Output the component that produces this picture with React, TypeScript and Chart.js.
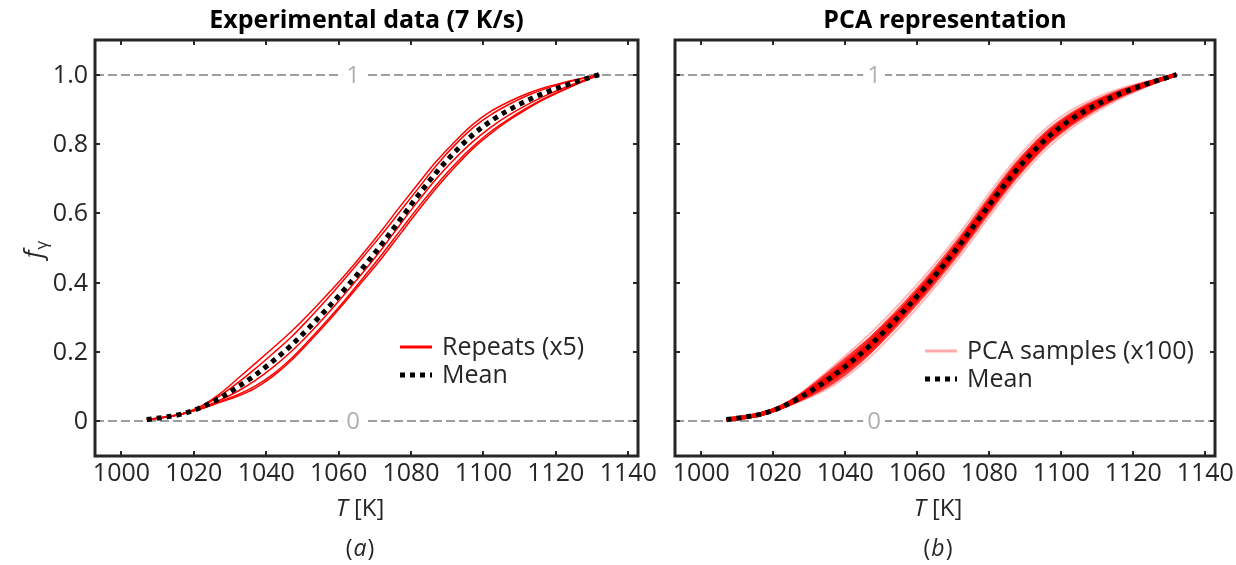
import React, { useEffect, useRef } from "react";
import { Chart, registerables } from "chart.js";
Chart.register(...registerables);

// ---------- data ----------
const temps = [1007, 1012, 1017, 1022, 1027, 1032, 1037, 1042, 1047, 1052, 1057, 1062, 1067, 1072, 1077, 1082, 1087, 1092, 1097, 1102, 1107, 1112, 1117, 1122, 1127, 1132];

const meanCurve = [0.005, 0.012, 0.022, 0.040, 0.066, 0.098, 0.134, 0.175, 0.220, 0.272, 0.327, 0.385, 0.447, 0.512, 0.582, 0.652, 0.718, 0.776, 0.826, 0.866, 0.898, 0.925, 0.948, 0.967, 0.984, 1.0];

const repeat1 = [0.005, 0.012, 0.023, 0.044, 0.078, 0.122, 0.167, 0.213, 0.260, 0.312, 0.367, 0.425, 0.487, 0.552, 0.620, 0.686, 0.750, 0.806, 0.856, 0.894, 0.922, 0.945, 0.963, 0.977, 0.989, 1.0];
const repeat2 = [0.005, 0.012, 0.022, 0.042, 0.072, 0.110, 0.152, 0.197, 0.244, 0.298, 0.355, 0.415, 0.477, 0.540, 0.606, 0.672, 0.738, 0.796, 0.846, 0.884, 0.914, 0.939, 0.959, 0.975, 0.988, 1.0];
const repeat3 = [0.005, 0.012, 0.022, 0.038, 0.060, 0.086, 0.118, 0.157, 0.202, 0.254, 0.311, 0.371, 0.433, 0.498, 0.568, 0.636, 0.700, 0.756, 0.806, 0.848, 0.883, 0.913, 0.939, 0.961, 0.981, 1.0];
const repeat4 = [0.005, 0.012, 0.022, 0.037, 0.056, 0.076, 0.102, 0.137, 0.182, 0.236, 0.293, 0.353, 0.417, 0.482, 0.550, 0.618, 0.682, 0.740, 0.792, 0.836, 0.872, 0.904, 0.932, 0.956, 0.979, 1.0];
const repeat5 = [0.005, 0.012, 0.022, 0.036, 0.054, 0.072, 0.096, 0.131, 0.176, 0.230, 0.287, 0.347, 0.409, 0.472, 0.540, 0.608, 0.673, 0.732, 0.786, 0.830, 0.868, 0.901, 0.930, 0.955, 0.978, 1.0];

const pcaSample1 = [0.005, 0.012, 0.023, 0.043, 0.076, 0.118, 0.162, 0.207, 0.254, 0.306, 0.361, 0.419, 0.481, 0.546, 0.616, 0.686, 0.751, 0.808, 0.856, 0.893, 0.921, 0.944, 0.962, 0.976, 0.988, 1.0];
const pcaSample2 = [0.005, 0.012, 0.021, 0.037, 0.056, 0.078, 0.106, 0.143, 0.186, 0.238, 0.293, 0.351, 0.413, 0.478, 0.548, 0.618, 0.685, 0.744, 0.796, 0.839, 0.875, 0.906, 0.934, 0.958, 0.980, 1.0];
const pcaSample3 = [0.005, 0.012, 0.023, 0.042, 0.072, 0.110, 0.151, 0.194, 0.240, 0.292, 0.347, 0.405, 0.467, 0.532, 0.602, 0.672, 0.738, 0.795, 0.844, 0.882, 0.912, 0.936, 0.956, 0.972, 0.986, 1.0];
const pcaSample4 = [0.005, 0.012, 0.021, 0.038, 0.060, 0.086, 0.117, 0.156, 0.200, 0.252, 0.307, 0.365, 0.427, 0.492, 0.562, 0.632, 0.698, 0.757, 0.808, 0.850, 0.884, 0.914, 0.940, 0.962, 0.982, 1.0];
const pcaSample5 = [0.005, 0.012, 0.022, 0.041, 0.069, 0.104, 0.142, 0.185, 0.230, 0.282, 0.337, 0.395, 0.457, 0.522, 0.592, 0.662, 0.728, 0.786, 0.835, 0.874, 0.905, 0.931, 0.952, 0.970, 0.985, 1.0];
const pcaSample6 = [0.005, 0.012, 0.022, 0.039, 0.063, 0.092, 0.126, 0.165, 0.210, 0.262, 0.317, 0.375, 0.437, 0.502, 0.572, 0.642, 0.708, 0.766, 0.817, 0.858, 0.891, 0.919, 0.944, 0.964, 0.983, 1.0];
const pcaSample7 = [0.005, 0.012, 0.022, 0.040, 0.067, 0.100, 0.137, 0.178, 0.223, 0.275, 0.330, 0.388, 0.450, 0.515, 0.585, 0.655, 0.721, 0.779, 0.829, 0.869, 0.900, 0.927, 0.949, 0.968, 0.984, 1.0];
const pcaSample8 = [0.005, 0.012, 0.022, 0.040, 0.065, 0.096, 0.131, 0.172, 0.217, 0.269, 0.324, 0.382, 0.444, 0.509, 0.579, 0.649, 0.715, 0.773, 0.823, 0.863, 0.896, 0.923, 0.947, 0.966, 0.984, 1.0];
const pcaSample9 = [0.005, 0.012, 0.023, 0.043, 0.074, 0.114, 0.156, 0.199, 0.242, 0.290, 0.339, 0.391, 0.447, 0.506, 0.570, 0.636, 0.700, 0.758, 0.810, 0.852, 0.887, 0.917, 0.942, 0.963, 0.982, 1.0];
const pcaSample10 = [0.005, 0.012, 0.021, 0.037, 0.058, 0.082, 0.112, 0.151, 0.198, 0.254, 0.315, 0.379, 0.447, 0.518, 0.594, 0.668, 0.736, 0.794, 0.842, 0.880, 0.909, 0.933, 0.954, 0.971, 0.986, 1.0];

const xTicks = [1000, 1020, 1040, 1060, 1080, 1100, 1120, 1140];
const xTickLabels = ["1000", "1020", "1040", "1060", "1080", "1100", "1120", "1140"];
const yTicks = [0, 0.2, 0.4, 0.6, 0.8, 1.0];
const yTickLabels = ["0", "0.2", "0.4", "0.6", "0.8", "1.0"];
const refLevels = [0, 1];
const refLabels = ["0", "1"];

const repeats = [repeat1, repeat2, repeat3, repeat4, repeat5];
const pcaSamples = [pcaSample1, pcaSample2, pcaSample3, pcaSample4, pcaSample5, pcaSample6, pcaSample7, pcaSample8, pcaSample9, pcaSample10];
// opacity / width of each PCA sample line (outer samples fainter)
const pcaAlpha = [0.28, 0.28, 0.7, 0.7, 0.9, 0.9, 0.95, 0.95, 0.55, 0.55];
const pcaWidth = [2, 2, 3, 3, 4, 4, 4, 4, 2, 2];

// ---------- styling ----------
const FONT = "'Open Sans', 'Noto Sans', sans-serif";
const INK = "#262626";
const GREY = "#9e9e9e";
const TICK_FS = 25;

const toPts = (ys: number[]) => temps.map((t, i) => ({ x: t, y: ys[i] }));

type PanelCfg = {
  title: string;
  sub: string;
  refLabelT: number;
  showYLabels: boolean;
  legend: { kind: "solid" | "dotted"; color: string; text: string; x: number; y: number }[];
  xLabelCx: number;
};

function makeDecor(cfg: PanelCfg) {
  return {
    id: "decor",
    beforeDatasetsDraw(chart: any) {
      const { ctx, chartArea: a, scales } = chart;
      const sx = scales.x, sy = scales.y;
      ctx.save();
      ctx.strokeStyle = GREY;
      ctx.lineWidth = 2;
      ctx.setLineDash([9, 4]);
      refLevels.forEach((v) => {
        const py = Math.round(sy.getPixelForValue(v));
        ctx.beginPath();
        ctx.moveTo(a.left, py);
        ctx.lineTo(a.right, py);
        ctx.stroke();
      });
      ctx.setLineDash([]);
      ctx.font = `24px ${FONT}`;
      ctx.textAlign = "center";
      ctx.textBaseline = "middle";
      refLevels.forEach((v, i) => {
        const px = sx.getPixelForValue(cfg.refLabelT);
        const py = sy.getPixelForValue(v);
        const w = ctx.measureText(refLabels[i]).width + 8;
        ctx.fillStyle = "#ffffff";
        ctx.fillRect(px - w / 2, py - 13, w, 26);
        ctx.fillStyle = "#b0b0b0";
        ctx.fillText(refLabels[i], px, py + 1);
      });
      ctx.restore();
    },
    afterDraw(chart: any) {
      const { ctx, chartArea: a, scales } = chart;
      const sx = scales.x, sy = scales.y;
      ctx.save();
      // ticks inward
      ctx.strokeStyle = INK;
      ctx.lineWidth = 2;
      const tl = 5;
      xTicks.forEach((v) => {
        const px = Math.round(sx.getPixelForValue(v));
        ctx.beginPath();
        ctx.moveTo(px, a.bottom);
        ctx.lineTo(px, a.bottom - tl);
        ctx.moveTo(px, a.top);
        ctx.lineTo(px, a.top + tl);
        ctx.stroke();
      });
      yTicks.forEach((v) => {
        const py = Math.round(sy.getPixelForValue(v));
        ctx.beginPath();
        ctx.moveTo(a.left, py);
        ctx.lineTo(a.left + tl, py);
        ctx.moveTo(a.right, py);
        ctx.lineTo(a.right - tl, py);
        ctx.stroke();
      });
      // frame
      ctx.lineWidth = 3;
      ctx.strokeRect(a.left, a.top, a.right - a.left, a.bottom - a.top);

      // tick labels
      ctx.fillStyle = INK;
      ctx.font = `${TICK_FS}px ${FONT}`;
      ctx.textAlign = "center";
      ctx.textBaseline = "middle";
      xTicks.forEach((v, i) => {
        ctx.fillText(xTickLabels[i], sx.getPixelForValue(v), a.bottom + 18);
      });
      if (cfg.showYLabels) {
        ctx.textAlign = "right";
        yTicks.forEach((v, i) => {
          ctx.fillText(yTickLabels[i], a.left - 7, sy.getPixelForValue(v) + 1);
        });
      }

      // title
      const cx = (a.left + a.right) / 2;
      ctx.fillStyle = "#000";
      ctx.font = `bold 25px ${FONT}`;
      ctx.textAlign = "center";
      ctx.textBaseline = "middle";
      ctx.fillText(cfg.title, cx, 21);

      // x label "T [K]"
      ctx.fillStyle = INK;
      ctx.textAlign = "left";
      const itF = `italic 24px ${FONT}`;
      const rgF = `24px ${FONT}`;
      ctx.font = itF;
      const wT = ctx.measureText("T").width;
      ctx.font = rgF;
      const wK = ctx.measureText(" [K]").width;
      let x0 = cfg.xLabelCx - (wT + wK) / 2;
      ctx.font = itF;
      ctx.fillText("T", x0, 509);
      ctx.font = rgF;
      ctx.fillText(" [K]", x0 + wT, 509);

      // sub label (a)/(b)
      const itS = `italic 23px ${FONT}`;
      const rgS = `23px ${FONT}`;
      ctx.font = rgS;
      const w1 = ctx.measureText("(").width;
      ctx.font = itS;
      const w2 = ctx.measureText(cfg.sub).width + 2;
      ctx.font = rgS;
      const w3 = ctx.measureText(")").width;
      x0 = cfg.xLabelCx - (w1 + w2 + w3) / 2;
      ctx.fillText("(", x0, 549);
      ctx.font = itS;
      ctx.fillText(cfg.sub, x0 + w1 + 1, 549);
      ctx.font = rgS;
      ctx.fillText(")", x0 + w1 + w2, 549);

      // y label
      if (cfg.showYLabels) {
        ctx.save();
        ctx.translate(42, 250);
        ctx.rotate(-Math.PI / 2);
        ctx.font = `italic 25px ${FONT}`;
        const wf = ctx.measureText("f").width;
        ctx.font = `17px ${FONT}`;
        const wg = ctx.measureText("γ").width;
        const sx0 = -(wf + wg) / 2;
        ctx.font = `italic 25px ${FONT}`;
        ctx.textBaseline = "alphabetic";
        ctx.fillText("f", sx0, 0);
        ctx.font = `17px ${FONT}`;
        ctx.fillText("γ", sx0 + wf + 1, 5);
        ctx.restore();
      }

      // legend
      ctx.textAlign = "left";
      ctx.textBaseline = "middle";
      cfg.legend.forEach((e) => {
        ctx.beginPath();
        ctx.strokeStyle = e.color;
        if (e.kind === "solid") {
          ctx.lineWidth = 3;
          ctx.setLineDash([]);
        } else {
          ctx.lineWidth = 5;
          ctx.setLineDash([5, 5]);
        }
        ctx.moveTo(e.x, e.y);
        ctx.lineTo(e.x + 32, e.y);
        ctx.stroke();
        ctx.setLineDash([]);
        ctx.fillStyle = INK;
        ctx.font = `25px ${FONT}`;
        ctx.fillText(e.text, e.x + 42, e.y + 1);
      });
      ctx.restore();
    },
  };
}

function buildOptions(padding: any) {
  return {
    responsive: false,
    maintainAspectRatio: false,
    animation: false as const,
    layout: { padding },
    plugins: { legend: { display: false }, tooltip: { enabled: false }, title: { display: false } },
    elements: { point: { radius: 0 }, line: { cubicInterpolationMode: "monotone" as const } },
    scales: {
      x: { type: "linear" as const, display: false, min: 992.7, max: 1142.7 },
      y: { type: "linear" as const, display: false, min: -0.1, max: 1.1 },
    },
  };
}

function Panel(props: { left: number; width: number; kind: "exp" | "pca" }) {
  const ref = useRef<HTMLCanvasElement | null>(null);
  useEffect(() => {
    if (!ref.current) return;
    const isExp = props.kind === "exp";
    const datasets: any[] = [];
    datasets.push({
      label: "Mean",
      data: toPts(meanCurve),
      borderColor: "#000000",
      borderWidth: 5,
      borderDash: [5, 5],
      borderCapStyle: "butt",
      order: 0,
    });
    if (isExp) {
      repeats.forEach((r, i) =>
        datasets.push({ label: `Repeat ${i + 1}`, data: toPts(r), borderColor: "#ff0000", borderWidth: 1.5, order: 1 })
      );
    } else {
      pcaSamples.forEach((r, i) =>
        datasets.push({
          label: `PCA ${i + 1}`,
          data: toPts(r),
          borderColor: `rgba(255,0,0,${pcaAlpha[i]})`,
          borderWidth: pcaWidth[i],
          order: 1,
        })
      );
    }
    const cfg: PanelCfg = isExp
      ? {
          title: "Experimental data (7 K/s)",
          sub: "a",
          refLabelT: 1064,
          showYLabels: true,
          xLabelCx: 360,
          legend: [
            { kind: "solid", color: "#ff0000", text: "Repeats (x5)", x: 400, y: 347 },
            { kind: "dotted", color: "#000000", text: "Mean", x: 400, y: 375 },
          ],
        }
      : {
          title: "PCA representation",
          sub: "b",
          refLabelT: 1048,
          showYLabels: false,
          xLabelCx: 938 - props.left,
          legend: [
            { kind: "solid", color: "#ffaaaa", text: "PCA samples (x100)", x: 925 - props.left, y: 351 },
            { kind: "dotted", color: "#000000", text: "Mean", x: 925 - props.left, y: 379 },
          ],
        };
    const padding = isExp
      ? { top: 40, left: 95, right: props.width - 638, bottom: 565 - 456 }
      : { top: 40, left: 675 - props.left, right: props.left + props.width - 1215, bottom: 565 - 456 };
    const chart = new Chart(ref.current, {
      type: "line",
      data: { datasets },
      options: buildOptions(padding) as any,
      plugins: [makeDecor(cfg)],
    });
    return () => chart.destroy();
  }, []);
  return (
    <canvas
      ref={ref}
      width={props.width}
      height={565}
      style={{ position: "absolute", left: props.left, top: 0, width: props.width, height: 565 }}
    />
  );
}

export default function App() {
  return (
    <div style={{ position: "fixed", left: 0, top: 0, width: 1236, height: 565, background: "#fff" }}>
      <Panel left={0} width={664} kind="exp" />
      <Panel left={664} width={572} kind="pca" />
    </div>
  );
}
